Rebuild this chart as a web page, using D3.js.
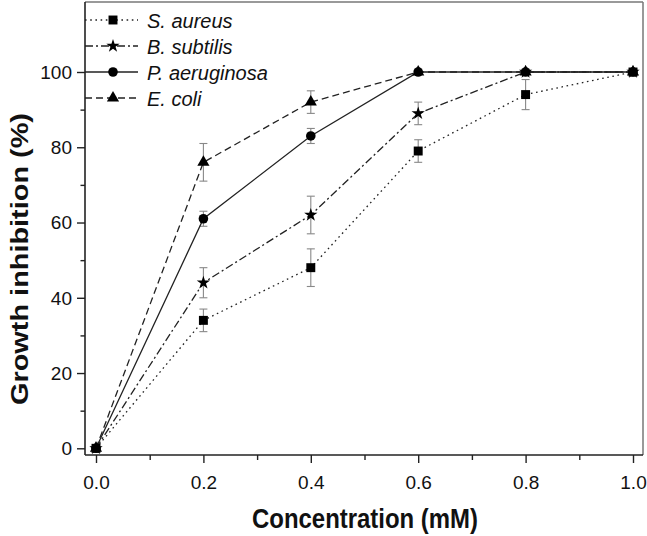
<!DOCTYPE html>
<html>
<head>
<meta charset="utf-8">
<script src="https://cdn.jsdelivr.net/npm/d3@7"></script>
<style>
  html, body { margin: 0; padding: 0; background: #fff; }
  svg { display: block; font-family: "Liberation Sans", Arial, sans-serif; }
</style>
</head>
<body>
<svg id="chart" width="647" height="536"></svg>
<script>
// ---- data ----
const concentrations = [0, 0.2, 0.4, 0.6, 0.8, 1.0];
const seriesNames = ["S. aureus", "B. subtilis", "P. aeruginosa", "E. coli"];
const saureusValues = [0, 34, 48, 79, 94, 100];
const saureusErrors = [0, 3, 5, 3, 4, 0];
const bsubtilisValues = [0, 44, 62, 89, 100, 100];
const bsubtilisErrors = [0, 4, 5, 3, 0, 0];
const paeruginosaValues = [0, 61, 83, 100, 100, 100];
const paeruginosaErrors = [0, 2, 2, 0, 0, 0];
const ecoliValues = [0, 76, 92, 100, 100, 100];
const ecoliErrors = [0, 5, 3, 0, 0, 0];
const xTickValues = [0, 0.2, 0.4, 0.6, 0.8, 1.0];
const xMinorTicks = [0.1, 0.3, 0.5, 0.7, 0.9];
const yTickValues = [0, 20, 40, 60, 80, 100];
const yMinorTicks = [10, 30, 50, 70, 90];
const xTitle = "Concentration (mM)";
const yTitle = "Growth inhibition (%)";

(function () {
// ---- styles ----
const styles = [
  { dash: "1.6,3.6", symbol: d3.symbolSquare, size: 80 },
  { dash: "8,3,2,3", symbol: d3.symbolStar, size: 55 },
  { dash: null, symbol: d3.symbolCircle, size: 72 },
  { dash: "7,4", symbol: d3.symbolTriangle, size: 64 }
];
const series = [
  { name: seriesNames[0], values: saureusValues, errors: saureusErrors },
  { name: seriesNames[1], values: bsubtilisValues, errors: bsubtilisErrors },
  { name: seriesNames[2], values: paeruginosaValues, errors: paeruginosaErrors },
  { name: seriesNames[3], values: ecoliValues, errors: ecoliErrors }
];

const svg = d3.select("#chart");
const pL = 85, pR = 643, pT = 2, pB = 455;

const x = d3.scaleLinear().domain([0, 1]).range([96, 633]);
const y = d3.scaleLinear().domain([0, 100]).range([448.3, 72]);

// frame
svg.append("line").attr("x1", pL).attr("x2", pR).attr("y1", pT).attr("y2", pT)
  .attr("stroke", "#777").attr("stroke-width", 1.5);
svg.append("line").attr("x1", pR).attr("x2", pR).attr("y1", pT).attr("y2", pB)
  .attr("stroke", "#777").attr("stroke-width", 1.5);

// x axis
const xAxis = svg.append("g").attr("transform", `translate(0,${pB})`)
  .call(d3.axisBottom(x).tickValues(xTickValues).tickFormat(d3.format(".1f")).tickSize(8).tickSizeOuter(0));
xAxis.select(".domain").remove();
xAxis.selectAll(".tick line").attr("stroke", "#222").attr("stroke-width", 1.4);
xAxis.selectAll(".tick text").attr("font-size", 19).attr("fill", "#111").attr("dy", 0).attr("y", 33.5);
svg.append("g").attr("transform", `translate(0,${pB})`)
  .call(d3.axisBottom(x).tickValues(xMinorTicks).tickFormat("").tickSize(5).tickSizeOuter(0))
  .call(g => g.select(".domain").remove())
  .call(g => g.selectAll(".tick line").attr("stroke", "#222").attr("stroke-width", 1.4));

// y axis
const yAxis = svg.append("g").attr("transform", `translate(${pL},0)`)
  .call(d3.axisLeft(y).tickValues(yTickValues).tickSize(8).tickSizeOuter(0));
yAxis.select(".domain").remove();
yAxis.selectAll(".tick line").attr("stroke", "#222").attr("stroke-width", 1.4);
yAxis.selectAll(".tick text").attr("font-size", 19).attr("fill", "#111").attr("x", -13).attr("dy", "0.34em");
svg.append("g").attr("transform", `translate(${pL},0)`)
  .call(d3.axisLeft(y).tickValues(yMinorTicks).tickFormat("").tickSize(4.5).tickSizeOuter(0))
  .call(g => g.select(".domain").remove())
  .call(g => g.selectAll(".tick line").attr("stroke", "#222").attr("stroke-width", 1.4));

// axis lines
svg.append("line").attr("x1", pL).attr("x2", pR).attr("y1", pB).attr("y2", pB)
  .attr("stroke", "#222").attr("stroke-width", 1.6);
svg.append("line").attr("x1", pL).attr("x2", pL).attr("y1", pT).attr("y2", pB)
  .attr("stroke", "#222").attr("stroke-width", 1.6);

// titles
svg.append("text").attr("x", 365).attr("y", 528).attr("text-anchor", "middle")
  .attr("font-size", 28).attr("font-weight", "bold").attr("fill", "#111")
  .attr("textLength", 226).attr("lengthAdjust", "spacingAndGlyphs").text(xTitle);
svg.append("text").attr("transform", "translate(28,259) rotate(-90)").attr("text-anchor", "middle")
  .attr("font-size", 24).attr("font-weight", "bold").attr("fill", "#111")
  .attr("textLength", 292).attr("lengthAdjust", "spacingAndGlyphs").text(yTitle);

// error bars
const errG = svg.append("g");
series.forEach(s => {
  s.values.forEach((v, i) => {
    const e = s.errors[i];
    if (!e) return;
    const cx = x(concentrations[i]);
    const y1 = y(v + e), y2 = y(v - e);
    errG.append("line").attr("x1", cx).attr("x2", cx).attr("y1", y1).attr("y2", y2)
      .attr("stroke", "#888").attr("stroke-width", 1.1);
    [y1, y2].forEach(yy => errG.append("line").attr("x1", cx - 4).attr("x2", cx + 4)
      .attr("y1", yy).attr("y2", yy).attr("stroke", "#888").attr("stroke-width", 1.1));
  });
});

// lines
const line = d3.line().x((d, i) => x(concentrations[i])).y(d => y(d));
series.forEach((s, k) => {
  svg.append("path").datum(s.values).attr("d", line).attr("fill", "none")
    .attr("stroke", "#222").attr("stroke-width", 1.3)
    .attr("stroke-dasharray", styles[k].dash);
});

// markers
series.forEach((s, k) => {
  const sym = d3.symbol().type(styles[k].symbol).size(styles[k].size);
  svg.append("g").selectAll("path").data(s.values).join("path")
    .attr("d", sym)
    .attr("transform", (d, i) => `translate(${x(concentrations[i])},${y(d)})`)
    .attr("fill", "#000");
});

// legend
const legend = svg.append("g");
series.forEach((s, k) => {
  const ly = 20 + 26 * k;
  legend.append("line").attr("x1", pL).attr("x2", 138).attr("y1", ly).attr("y2", ly)
    .attr("stroke", "#222").attr("stroke-width", 1.3).attr("stroke-dasharray", styles[k].dash);
  legend.append("path").attr("d", d3.symbol().type(styles[k].symbol).size(styles[k].size)())
    .attr("transform", `translate(113,${ly})`).attr("fill", "#000");
  legend.append("text").attr("x", 147).attr("y", ly + 7.5).attr("font-size", 20)
    .attr("font-style", "italic").attr("fill", "#111").text(s.name);
});
})();
</script>
</body>
</html>
